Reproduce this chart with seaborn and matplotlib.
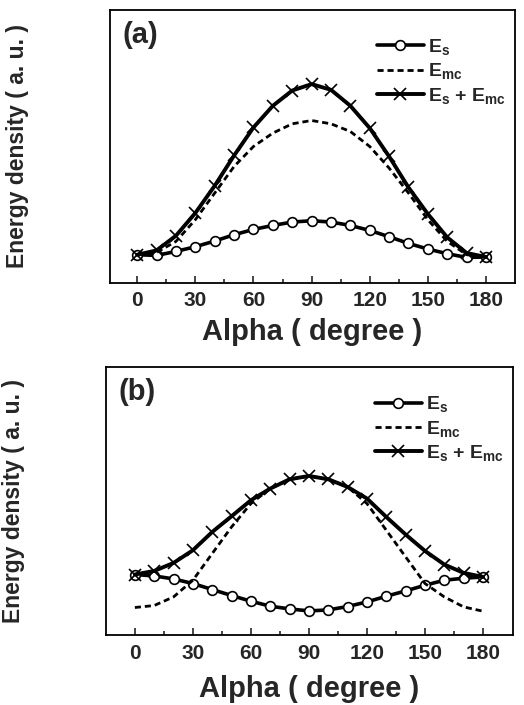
import numpy as np
import pandas as pd
import matplotlib
matplotlib.use("Agg")
import matplotlib.pyplot as plt
import seaborn as sns

# angles in degrees
alpha = [0, 10, 20, 30, 40, 50, 60, 70, 80, 90, 100, 110, 120, 130, 140, 150, 160, 170, 180]

# panel (a) energy densities (arbitrary units)
es_a = [0.280, 0.273, 0.313, 0.360, 0.417, 0.480, 0.533, 0.573, 0.607, 0.620,
        0.607, 0.573, 0.523, 0.460, 0.393, 0.337, 0.290, 0.253, 0.257]
emc_a = [0.280, 0.303, 0.413, 0.630, 0.897, 1.163, 1.363, 1.497, 1.590, 1.623,
         1.590, 1.513, 1.363, 1.147, 0.897, 0.630, 0.413, 0.280, 0.257]
sum_a = [0.280, 0.323, 0.470, 0.697, 0.970, 1.273, 1.553, 1.770, 1.923, 1.987,
         1.930, 1.770, 1.547, 1.263, 0.953, 0.687, 0.453, 0.297, 0.257]

# panel (b)
es_b = [0.607, 0.593, 0.563, 0.517, 0.457, 0.397, 0.340, 0.290, 0.263, 0.243,
        0.253, 0.287, 0.333, 0.390, 0.443, 0.500, 0.550, 0.570, 0.583]
emc_b = [0.277, 0.297, 0.383, 0.550, 0.817, 1.083, 1.317, 1.467, 1.557, 1.593,
         1.557, 1.483, 1.317, 1.050, 0.783, 0.517, 0.383, 0.283, 0.240]
sum_b = [0.607, 0.643, 0.723, 0.850, 1.033, 1.190, 1.350, 1.467, 1.560, 1.593,
         1.560, 1.483, 1.367, 1.183, 1.007, 0.843, 0.707, 0.623, 0.583]

xticks = [0, 30, 60, 90, 120, 150, 180]

sns.set_theme(style="ticks")
plt.rcParams['font.family'] = ['Liberation Sans', 'DejaVu Sans']
plt.rcParams['font.weight'] = 'bold'
plt.rcParams['mathtext.fontset'] = 'custom'
plt.rcParams['mathtext.rm'] = 'Liberation Sans:bold'
plt.rcParams['mathtext.it'] = 'Liberation Sans:bold'
plt.rcParams['mathtext.default'] = 'rm'

fig = plt.figure(figsize=(5.24, 7.05), dpi=100)
ax_a = fig.add_axes([0.210, 0.599, 0.773, 0.387])
ax_b = fig.add_axes([0.202, 0.099, 0.777, 0.380])

panels = [
    (ax_a, es_a, emc_a, sum_a, "(a)", (-14, 195), (0, 2.73), 6),
    (ax_b, es_b, emc_b, sum_b, "(b)", (-15, 195.5), (0, 2.68), 9),
]

for ax, es, emc, tot, tag, xl, yl, xpad in panels:
    df = pd.DataFrame({"alpha": alpha, "Es": es, "Emc": emc, "Sum": tot})
    sns.lineplot(data=df, x="alpha", y="Es", ax=ax, color="black", lw=2.6,
                 marker="o", markersize=7, markerfacecolor="white",
                 markeredgecolor="black", markeredgewidth=1.2,
                 label=r"E$_s$")
    sns.lineplot(data=df, x="alpha", y="Emc", ax=ax, color="black", lw=2.0,
                 label=r"E$_{mc}$")
    ax.lines[-1].set_dashes([2.2, 1.4])
    sns.lineplot(data=df, x="alpha", y="Sum", ax=ax, color="black", lw=2.8,
                 marker="x", markersize=8, markeredgecolor="black",
                 markeredgewidth=1.2, label=r"E$_s$ + E$_{mc}$")

    ax.set_xlim(*xl)
    ax.set_ylim(*yl)
    ax.set_xticks(xticks)
    ax.set_xticks(np.arange(15, 180, 30), minor=True)
    ax.set_yticks([])
    ax.tick_params(axis="x", which="both", direction="in", top=False,
                   labelsize=15, width=1.2, pad=6)
    ax.tick_params(axis="x", which="major", length=5)
    ax.tick_params(axis="x", which="minor", length=3)
    for lab in ax.get_xticklabels():
        lab.set_fontweight("bold")
    for sp in ax.spines.values():
        sp.set_linewidth(1.3)
        sp.set_color("black")
    ax.set_xlabel("Alpha ( degree )", fontsize=21, fontweight="bold",
                  labelpad=xpad)
    ax.set_ylabel("Energy density ( a. u. )", fontsize=16.5, fontweight="bold",
                  labelpad=58)
    ax.text(0.03, 0.96, tag, transform=ax.transAxes, fontsize=21,
            fontweight="bold", va="top", ha="left")
    ax.legend(loc="upper right", bbox_to_anchor=(1.01, 0.95), frameon=False,
              fontsize=14, handlelength=2.4, handletextpad=0.2,
              labelspacing=0.22, borderaxespad=0.3)

fig.savefig("out.png", dpi=100)
